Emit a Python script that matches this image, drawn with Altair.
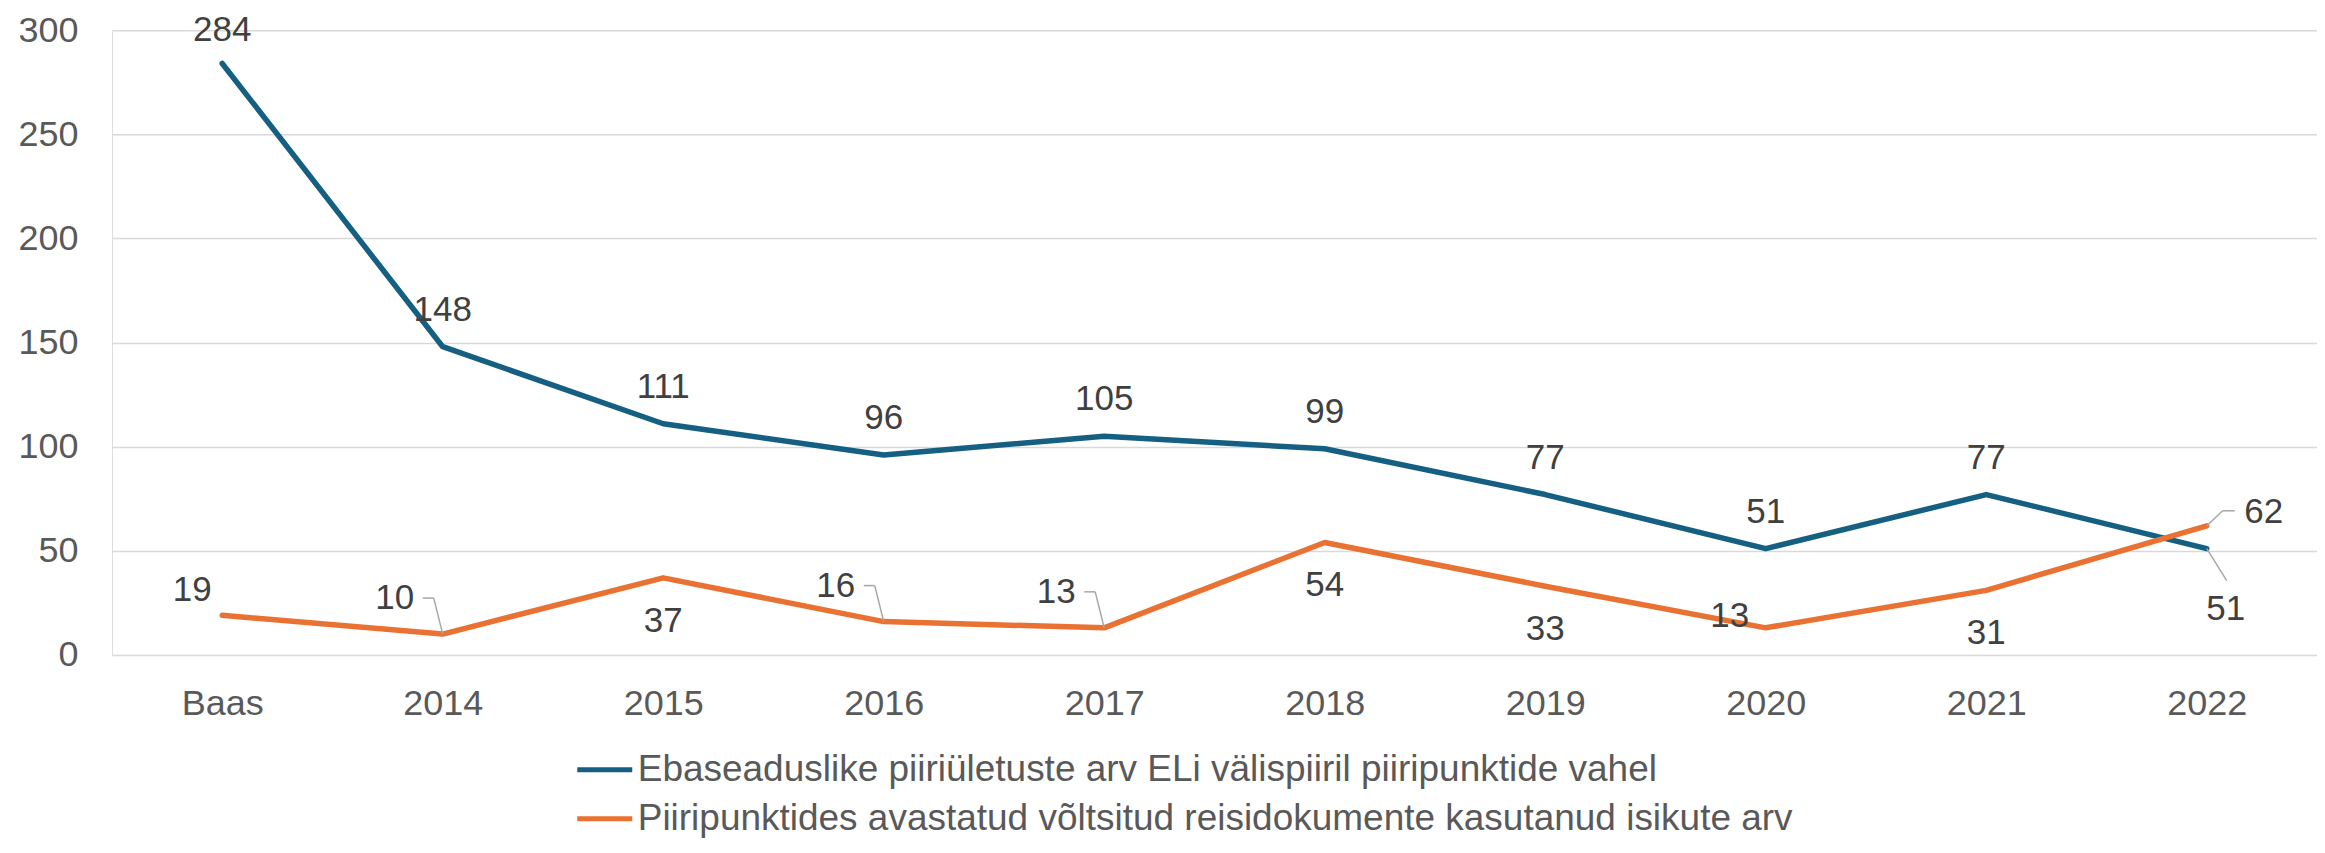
import altair as alt
import pandas as pd

categories = ["Baas", "2014", "2015", "2016", "2017", "2018", "2019", "2020", "2021", "2022"]
series_names = [
    "Ebaseaduslike piiriületuste arv ELi välispiiril piiripunktide vahel",
    "Piiripunktides avastatud võltsitud reisidokumente kasutanud isikute arv",
]
crossings = [284, 148, 111, 96, 105, 99, 77, 51, 77, 51]
forged_docs = [19, 10, 37, 16, 13, 54, 33, 13, 31, 62]
series_colors = ["#156082", "#E97132"]
y_ticks = [0, 50, 100, 150, 200, 250, 300]

# label placement keys per point (style only)
crossings_place = ["above_top"] + ["above"] * 8 + ["leader_below"]
forged_place = ["upper_left", "leader_left", "below", "leader_left", "leader_left",
                "below", "below", "left", "below", "leader_right"]

TEXT_OFFSETS = {
    "above_top": (0, -33),
    "above": (0, -37),
    "below": (0, 43),
    "upper_left": (-30, -25),
    "leader_left": (-48, -36),
    "left": (-36, -12),
    "leader_right": (57, -14),
    "leader_below": (19, 60),
}
LEADERS = {
    "leader_left": [((0, 0), (-9, -36)), ((-9, -36), (-20, -36))],
    "leader_right": [((0, 0), (16, -15)), ((16, -15), (28, -15))],
    "leader_below": [((0, 0), (20, 32))],
}

rows = []
for name, vals, places in [(series_names[0], crossings, crossings_place),
                           (series_names[1], forged_docs, forged_place)]:
    for c, v, p in zip(categories, vals, places):
        rows.append({"cat": c, "value": v, "series": name, "place": p})
df = pd.DataFrame(rows)

FONT = "Liberation Sans"
W, H = 2206, 625

x_enc = alt.X("cat:N", sort=categories, title=None,
              scale=alt.Scale(type="point", padding=0.5),
              axis=alt.Axis(labelFontSize=36, labelColor="#595959", labelFont=FONT,
                            labelPadding=32, ticks=False, domain=False, grid=False,
                            labelAngle=0))
y_enc = alt.Y("value:Q", title=None,
              scale=alt.Scale(domain=[0, 300], nice=False, zero=True),
              axis=alt.Axis(values=y_ticks, labelFontSize=36, labelColor="#595959",
                            labelFont=FONT, labelPadding=34, ticks=False, domain=False,
                            grid=True, gridColor="#D9D9D9", gridWidth=1.5))

base = alt.Chart(df)

lines = base.mark_line(strokeWidth=5.5, strokeJoin="round", strokeCap="round").encode(
    x=x_enc, y=y_enc,
    color=alt.Color("series:N", sort=series_names,
                    scale=alt.Scale(domain=series_names, range=series_colors),
                    legend=alt.Legend(title=None, orient="none", legendX=463, legendY=710,
                                      direction="vertical", symbolType="stroke",
                                      symbolSize=3025, symbolStrokeWidth=5,
                                      labelFontSize=37, labelFont=FONT,
                                      labelColor="#595959", labelOffset=3,
                                      labelLimit=2000, rowPadding=1, padding=0)),
)

layers = [lines]
for place, (dx, dy) in TEXT_OFFSETS.items():
    layers.append(
        base.transform_filter(alt.datum.place == place)
        .mark_text(dx=dx, dy=dy, align="center", baseline="middle",
                   fontSize=35, font=FONT, color="#404040")
        .encode(x=alt.X("cat:N", sort=categories), y=alt.Y("value:Q"), text="value:Q")
    )

for place, segs in LEADERS.items():
    for (x0, y0), (x1, y1) in segs:
        layers.append(
            base.transform_filter(alt.datum.place == place)
            .mark_rule(xOffset=x0, yOffset=y0, x2Offset=x1, y2Offset=y1,
                       color="#A6A6A6", strokeWidth=1.5)
            .encode(x=alt.X("cat:N", sort=categories), y=alt.Y("value:Q"),
                    x2=alt.X2("cat:N"), y2=alt.Y2("value:Q"))
        )

chart = alt.layer(*layers).properties(
    width=W, height=H,
    autosize=alt.AutoSizeParams(type="none"),
    padding={"left": 104, "top": 22, "right": 0, "bottom": 185},
).configure_view(stroke=None).configure(background="white")

chart.save("out.html", embed_options={"renderer": "svg", "actions": False})
